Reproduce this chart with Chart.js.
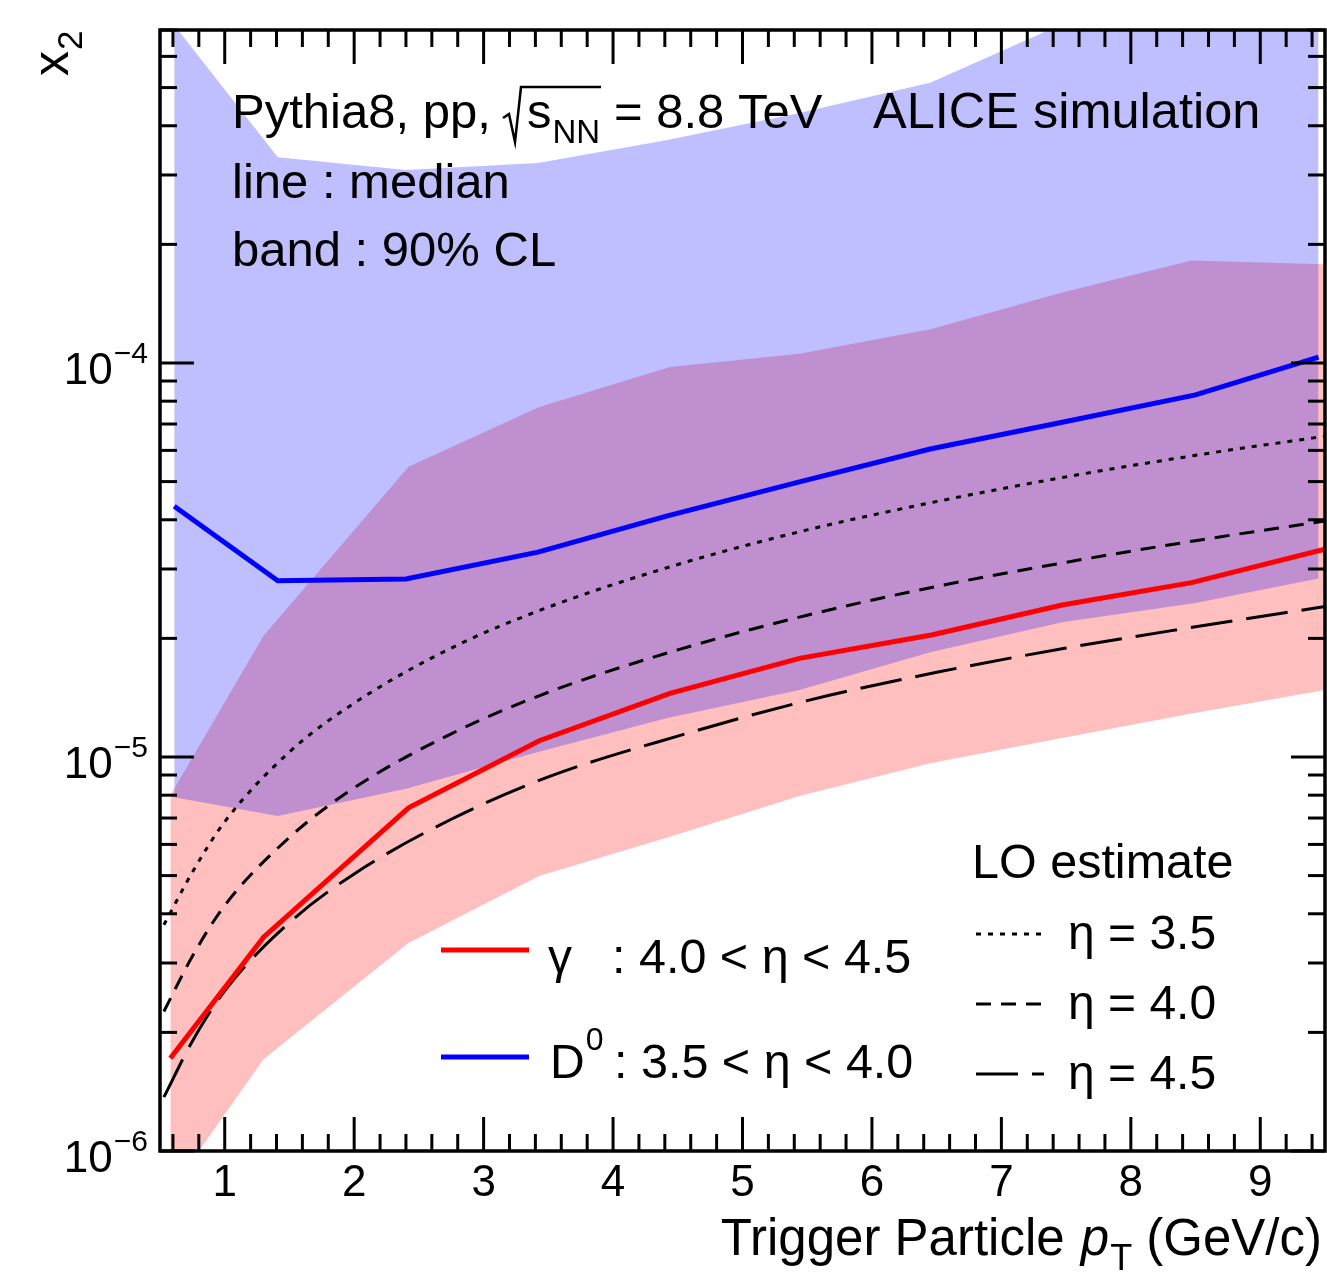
<!DOCTYPE html>
<html>
<head>
<meta charset="utf-8">
<script src="https://cdn.jsdelivr.net/npm/chart.js@4.4.1/dist/chart.umd.min.js"></script>
<style>
html,body{margin:0;padding:0;background:#fff;}
#wrap{width:1327px;height:1274px;position:relative;}
</style>
</head>
<body>
<div id="wrap"><canvas id="c"></canvas></div>
<script>
// ---------------- data ----------------
// gamma (4.0 < eta < 4.5)
const xRed      = [0.58, 1.30, 2.42, 3.43, 4.44, 5.44, 6.46, 7.47, 8.47, 9.50];
const redMedian = [1.72e-6, 3.49e-6, 7.43e-6, 1.10e-5, 1.45e-5, 1.78e-5, 2.04e-5, 2.43e-5, 2.77e-5, 3.37e-5];
const redLow    = [7.9e-7, 1.71e-6, 3.37e-6, 4.99e-6, 6.27e-6, 7.96e-6, 9.66e-6, 1.117e-5, 1.29e-5, 1.48e-5];
const redHigh   = [8.0e-6, 2.03e-5, 5.45e-5, 7.73e-5, 9.77e-5, 1.055e-4, 1.22e-4, 1.51e-4, 1.82e-4, 1.78e-4];
// D0 (3.5 < eta < 4.0)
const xBlue      = [0.61, 1.41, 2.40, 3.42, 4.42, 5.44, 6.45, 7.48, 8.50, 9.45];
const blueMedian = [4.33e-5, 2.80e-5, 2.83e-5, 3.31e-5, 4.09e-5, 4.99e-5, 6.05e-5, 7.08e-5, 8.30e-5, 1.035e-4];
const blueLow    = [7.9e-6, 7.08e-6, 8.3e-6, 1.03e-5, 1.256e-5, 1.48e-5, 1.845e-5, 2.20e-5, 2.46e-5, 2.84e-5];
const blueHigh   = [7.2e-4, 3.33e-4, 3.09e-4, 3.22e-4, 3.68e-4, 4.31e-4, 5.14e-4, 7.27e-4, 9.5e-4, 1.2e-3];
// LO estimate curves
const xLO   = [0.53, 0.75, 1.0, 1.5, 2.0, 2.75, 3.5, 4.5, 5.5, 6.5, 7.5, 8.5, 9.5];
const lo35  = [3.75e-6, 5.1e-6, 6.85e-6, 1.03e-5, 1.37e-5, 1.89e-5, 2.4e-5, 3.08e-5, 3.77e-5, 4.45e-5, 5.14e-5, 5.83e-5, 6.52e-5];
const lo40  = [2.26e-6, 3.12e-6, 4.2e-6, 6.25e-6, 8.35e-6, 1.145e-5, 1.46e-5, 1.87e-5, 2.29e-5, 2.71e-5, 3.12e-5, 3.54e-5, 3.97e-5];
const lo45  = [1.37e-6, 1.9e-6, 2.55e-6, 3.8e-6, 5.05e-6, 6.95e-6, 8.9e-6, 1.13e-5, 1.39e-5, 1.64e-5, 1.89e-5, 2.14e-5, 2.41e-5];
// axis ticks
const xTickLabels = ['1', '2', '3', '4', '5', '6', '7', '8', '9'];
const yDecades    = [-6, -5, -4];
const xRange = [0.5, 9.5];
const yRange = [1e-6, 7e-4];

// ---------------- helpers ----------------
const FONT = '"Liberation Sans", Arial, Helvetica, sans-serif';
const pts = (xs, ys) => xs.map((v, i) => ({x: v, y: ys[i]}));
const NONE = 'rgba(0,0,0,0)';

const styles = {
  red:  {color: '#ff0000', width: 5, dash: []},
  blue: {color: '#0000ff', width: 5, dash: []},
  lo35: {color: '#000000', width: 3, dash: [5, 7]},
  lo40: {color: '#000000', width: 3, dash: [15, 10]},
  lo45: {color: '#000000', width: 3, dash: [42, 14]}
};

function txt(ctx, s, x, y, size, align, italic) {
  ctx.font = (italic ? 'italic ' : '') + size + 'px ' + FONT;
  ctx.textAlign = align || 'left';
  ctx.textBaseline = 'alphabetic';
  ctx.fillText(s, x, y);
  return ctx.measureText(s).width;
}
function seg(ctx, x1, y1, x2, y2) {
  ctx.beginPath(); ctx.moveTo(x1, y1); ctx.lineTo(x2, y2); ctx.stroke();
}

const frame = {
  id: 'frame',
  beforeDraw(chart) {
    const ctx = chart.ctx;
    ctx.save(); ctx.fillStyle = '#fff'; ctx.fillRect(0, 0, chart.width, chart.height); ctx.restore();
  },
  afterDatasetsDraw(chart) {
    const {ctx, chartArea: a, scales: {x, y}} = chart;
    ctx.save();
    ctx.strokeStyle = '#000';
    ctx.lineWidth = 3;
    ctx.setLineDash([]);
    // x ticks (bottom and top, inward)
    for (let i = 6; i <= 94; i += 2) {
      const v = i / 10;
      const px = x.getPixelForValue(v);
      const L = (i % 10 === 0) ? 34 : 17;
      seg(ctx, px, a.bottom, px, a.bottom - L);
      seg(ctx, px, a.top, px, a.top + L);
    }
    // y ticks (left and right, inward)
    for (const d of yDecades) {
      for (let m = 1; m <= 9; m++) {
        const v = m * Math.pow(10, d);
        if (v > yRange[1] * 1.0001) continue;
        const py = y.getPixelForValue(v);
        const L = (m === 1) ? 34 : 17;
        seg(ctx, a.left, py, a.left + L, py);
        seg(ctx, a.right, py, a.right - L, py);
      }
    }
    ctx.lineWidth = 3.5;
    ctx.strokeRect(a.left, a.top, a.right - a.left, a.bottom - a.top);
    ctx.restore();
  },
  afterDraw(chart) {
    const {ctx, chartArea: a, scales: {x, y}} = chart;
    ctx.save();
    ctx.fillStyle = '#000';
    // x tick labels
    xTickLabels.forEach(l => {
      txt(ctx, l, x.getPixelForValue(parseFloat(l)), a.bottom + 45, 44, 'center');
    });
    // y tick labels 10^n
    yDecades.forEach(d => {
      const py = y.getPixelForValue(Math.pow(10, d));
      const right = a.left - 12;
      const w = txt(ctx, '\u2212' + Math.abs(d), right, py, 30, 'right');
      txt(ctx, '10', right - w - 1, py + 21, 44, 'right');
    });
    // x axis title
    {
      const F = 51, base = 1255;
      ctx.font = F + 'px ' + FONT;
      const tail = ' (GeV/c)';
      let r = 1322;
      const wTail = ctx.measureText(tail).width;
      txt(ctx, tail, r, base, F, 'right');
      r -= wTail;
      ctx.font = '36px ' + FONT;
      const wT = ctx.measureText('T').width;
      txt(ctx, 'T', r, base + 15, 36, 'right');
      r -= wT;
      txt(ctx, 'p', r - 1, base, F, 'right', true);
      ctx.font = 'italic ' + F + 'px ' + FONT;
      r -= ctx.measureText('p').width + 3;
      txt(ctx, 'Trigger Particle ', r, base, F, 'right');
    }
    // y axis title x_2 (rotated)
    ctx.save();
    ctx.translate(68, 76);
    ctx.rotate(-Math.PI / 2);
    const wx = txt(ctx, 'x', 0, 0, 50, 'left');
    txt(ctx, '2', wx + 1, 14, 35, 'left');
    ctx.restore();

    // header texts
    const S = 49;
    txt(ctx, 'Pythia8, pp,', 232, 128, S);
    ctx.lineWidth = 2.5; ctx.strokeStyle = '#000'; ctx.setLineDash([]);
    ctx.beginPath();
    ctx.moveTo(503, 118); ctx.lineTo(509, 114); ctx.lineTo(515, 142); ctx.lineTo(521, 87); ctx.lineTo(601, 87);
    ctx.stroke();
    const ws = txt(ctx, 's', 527, 128, S);
    txt(ctx, 'NN', 527 + ws + 1, 143, 33);
    txt(ctx, '= 8.8 TeV', 614, 128, S);
    txt(ctx, 'ALICE simulation', 873, 128, 50.5);
    txt(ctx, 'line : median', 232, 198, S);
    txt(ctx, 'band : 90% CL', 232, 266, S);

    // legend: medians
    const legLine = (st, x1, x2, yy) => {
      ctx.strokeStyle = st.color; ctx.lineWidth = st.width; ctx.setLineDash(st.dash);
      seg(ctx, x1, yy, x2, yy);
    };
    legLine(styles.red, 441, 529, 950);
    legLine(styles.blue, 441, 529, 1057);
    ctx.setLineDash([]);
    txt(ctx, '\u03B3', 548, 973, 48);
    txt(ctx, ': 4.0 < \u03B7 < 4.5', 612, 973, 48.5);
    const wD = txt(ctx, 'D', 550, 1078, 48);
    txt(ctx, '0', 550 + wD + 1, 1050, 32);
    txt(ctx, ': 3.5 < \u03B7 < 4.0', 614, 1078, 48.5);

    // legend: LO estimate
    txt(ctx, 'LO estimate', 972, 878, 48.5);
    legLine(styles.lo35, 976, 1047, 934);
    legLine(styles.lo40, 976, 1047, 1004);
    legLine(styles.lo45, 976, 1044, 1074);
    ctx.setLineDash([]);
    txt(ctx, '\u03B7 = 3.5', 1068, 949, 48);
    txt(ctx, '\u03B7 = 4.0', 1068, 1019, 48);
    txt(ctx, '\u03B7 = 4.5', 1068, 1089, 48);
    ctx.restore();
  }
};

const lineDs = (label, xs, ys, st, order, smooth) => ({
  label, data: pts(xs, ys), borderColor: st.color, borderWidth: st.width, borderDash: st.dash,
  backgroundColor: NONE, fill: false, pointRadius: 0, order,
  cubicInterpolationMode: smooth ? 'monotone' : 'default', tension: 0
});

new Chart(document.getElementById('c'), {
  type: 'line',
  data: {
    datasets: [
      {label: 'gamma low', data: pts(xRed, redLow), borderColor: NONE, borderWidth: 1, backgroundColor: NONE, fill: false, pointRadius: 0, order: 21},
      {label: 'gamma high', data: pts(xRed, redHigh), borderColor: NONE, borderWidth: 1, backgroundColor: 'rgba(255,0,0,0.25)', fill: {target: 0}, pointRadius: 0, order: 20},
      {label: 'D0 low', data: pts(xBlue, blueLow), borderColor: NONE, borderWidth: 1, backgroundColor: NONE, fill: false, pointRadius: 0, order: 11},
      {label: 'D0 high', data: pts(xBlue, blueHigh), borderColor: NONE, borderWidth: 1, backgroundColor: 'rgba(0,0,255,0.25)', fill: {target: 2}, pointRadius: 0, order: 10},
      lineDs('LO eta=3.5', xLO, lo35, styles.lo35, 5, true),
      lineDs('LO eta=4.0', xLO, lo40, styles.lo40, 4, true),
      lineDs('LO eta=4.5', xLO, lo45, styles.lo45, 3, true),
      lineDs('D0 median', xBlue, blueMedian, styles.blue, 1, false),
      lineDs('gamma median', xRed, redMedian, styles.red, 0, false)
    ]
  },
  options: {
    responsive: true,
    maintainAspectRatio: false,
    devicePixelRatio: 1,
    animation: false,
    layout: {padding: {left: 160, top: 30, right: 2, bottom: 123}},
    plugins: {legend: {display: false}, tooltip: {enabled: false}},
    elements: {point: {radius: 0}},
    scales: {
      x: {type: 'linear', min: xRange[0], max: xRange[1], display: false},
      y: {type: 'logarithmic', min: yRange[0], max: yRange[1], display: false}
    }
  },
  plugins: [frame]
});
</script>
</body>
</html>
